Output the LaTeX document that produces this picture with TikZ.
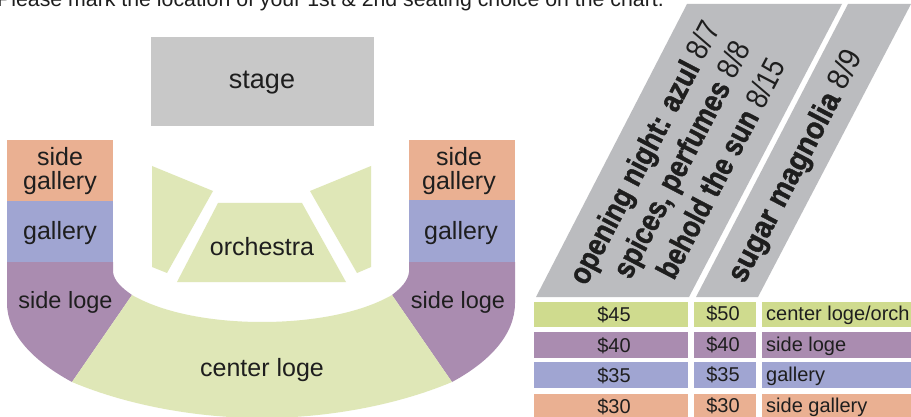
\documentclass[tikz,border=0pt]{standalone}
\usepackage{fontspec}
\usepackage{graphicx}
\setmainfont{Liberation Sans}
\newfontfamily\heavy[BoldFeatures={FakeBold=1.3}]{Liberation Sans}
\definecolor{cstage}{HTML}{C8C8C8}
\definecolor{cpara}{HTML}{BBBCBF}
\definecolor{csg}{HTML}{EAB092}
\definecolor{cgal}{HTML}{A0A5D2}
\definecolor{cloge}{HTML}{AA8CB0}
\definecolor{ccen}{HTML}{DFE7B7}
\definecolor{crow}{HTML}{CFDB8E}
\definecolor{ink}{HTML}{1E1E1E}
\newcommand{\fsz}[1]{\fontsize{#1}{#1}\selectfont}
\newcommand{\cnd}[3]{\scalebox{#1}[1]{{\heavy\bfseries #2} #3}}
\tikzset{
  lab/.style={text=ink,font=\fsz{25},align=center,inner sep=0pt},
  small/.style={text=ink,font=\fsz{20},inner sep=0pt},
  slant/.style={text=ink,font=\fsz{31},rotate=62.4,anchor=west,inner sep=0pt},
}
\begin{document}
\begin{tikzpicture}[x=1pt,y=-1pt]
\useasboundingbox (0,0) rectangle (911,417);
\clip (0,0) rectangle (911,417);
\fill[white] (0,0) rectangle (911,417);
% header
\node[text=ink,font=\fsz{21.3},anchor=base west,inner sep=0pt] (hdr) at (-3,7) {Please mark the location of your 1st \& 2nd seating choice on the chart.};
% stage
\fill[cstage] (151,37) rectangle (374,126);
\node[lab,font=\fsz{27}] (stage) at (262,83) {stage};
% left blocks
\fill[csg] (7,140) rectangle (113,201);
\fill[cgal] (7,201) rectangle (113,262);
\fill[cloge] (7,262) -- (113,262) -- (113,272) .. controls (114,281) and (122,288) .. (132,295) -- (72,382) .. controls (35,362) and (7,335) .. (7,303) -- cycle;
% right blocks
\fill[csg] (409,140) rectangle (515,200);
\fill[cgal] (409,200) rectangle (515,262);
\fill[cloge] (515,262) -- (409,262) -- (409,272) .. controls (408,281) and (401,288) .. (392,295) -- (452,382) .. controls (489,362) and (515,335) .. (515,303) -- cycle;
% center loge
\fill[ccen] (132,295) .. controls (165,314) and (215,322) .. (262,322) .. controls (309,322) and (359,314) .. (392,295) -- (452,382) .. controls (395,406) and (325,418) .. (262,418) .. controls (199,418) and (129,406) .. (72,382) -- cycle;
% orchestra
\fill[ccen] (218,203) -- (302,203) -- (346,282) -- (177,282) -- cycle;
\fill[ccen] (152,166) -- (213,191) -- (167,273) -- (152,267) -- cycle;
\fill[ccen] (371,166) -- (310,191) -- (357,273) -- (371,267) -- cycle;
% labels
\node[lab] (sgl) at (60,171.5) {side\\[-1pt]gallery};
\node[lab] (gl) at (60,233) {gallery};
\node[lab,font=\fsz{23.5}] (sll) at (65.5,302) {side loge};
\node[lab] (sgr) at (459,171.5) {side\\[-1pt]gallery};
\node[lab] (gr) at (461,233) {gallery};
\node[lab,font=\fsz{23.5}] (slr) at (458,302) {side loge};
\node[lab] (orch) at (262,247) {orchestra};
\node[lab] (cen) at (262,370) {center loge};
% slanted header
\fill[cpara] (687,4) -- (842,4) -- (689,297) -- (536,297) -- cycle;
\fill[cpara] (848,4) -- (911,4) -- (758,297) -- (696,297) -- cycle;
\node[slant] (t1) at (579,283) {\cnd{0.86}{opening night: azul}{8/7}};
\node[slant] (t2) at (623,277) {\cnd{0.86}{spices, perfumes}{8/8}};
\node[slant] (t3) at (664,276) {\cnd{0.84}{behold the sun}{8/15}};
\node[slant] (t4) at (737,281) {\cnd{0.915}{sugar magnolia}{8/9}};
% table
\fill[crow] (534,302) rectangle (688,327);
\fill[crow] (694,302) rectangle (756,327);
\fill[crow] (762,302) rectangle (911,327);
\fill[cloge] (534,332) rectangle (688,358);
\fill[cloge] (694,332) rectangle (756,358);
\fill[cloge] (762,332) rectangle (911,358);
\fill[cgal] (534,362) rectangle (688,388);
\fill[cgal] (694,362) rectangle (756,388);
\fill[cgal] (762,362) rectangle (911,388);
\fill[csg] (534,394) rectangle (688,417);
\fill[csg] (694,394) rectangle (756,417);
\fill[csg] (762,394) rectangle (911,417);
\node[small] (a1) at (614,314.5) {\$45};
\node[small] (b1) at (723,313.5) {\$50};
\node[small,anchor=west] (c1) at (766,315) {center loge/orch};
\node[small] (a2) at (614,345.5) {\$40};
\node[small] (b2) at (723,344.5) {\$40};
\node[small,anchor=west] (c2) at (766,346) {side loge};
\node[small] (a3) at (614,376) {\$35};
\node[small] (b3) at (723,375) {\$35};
\node[small,anchor=west] (c3) at (766,376) {gallery};
\node[small] (a4) at (614,406.5) {\$30};
\node[small] (b4) at (723,405.5) {\$30};
\node[small,anchor=west] (c4) at (766,407) {side gallery};
\end{tikzpicture}
\end{document}
